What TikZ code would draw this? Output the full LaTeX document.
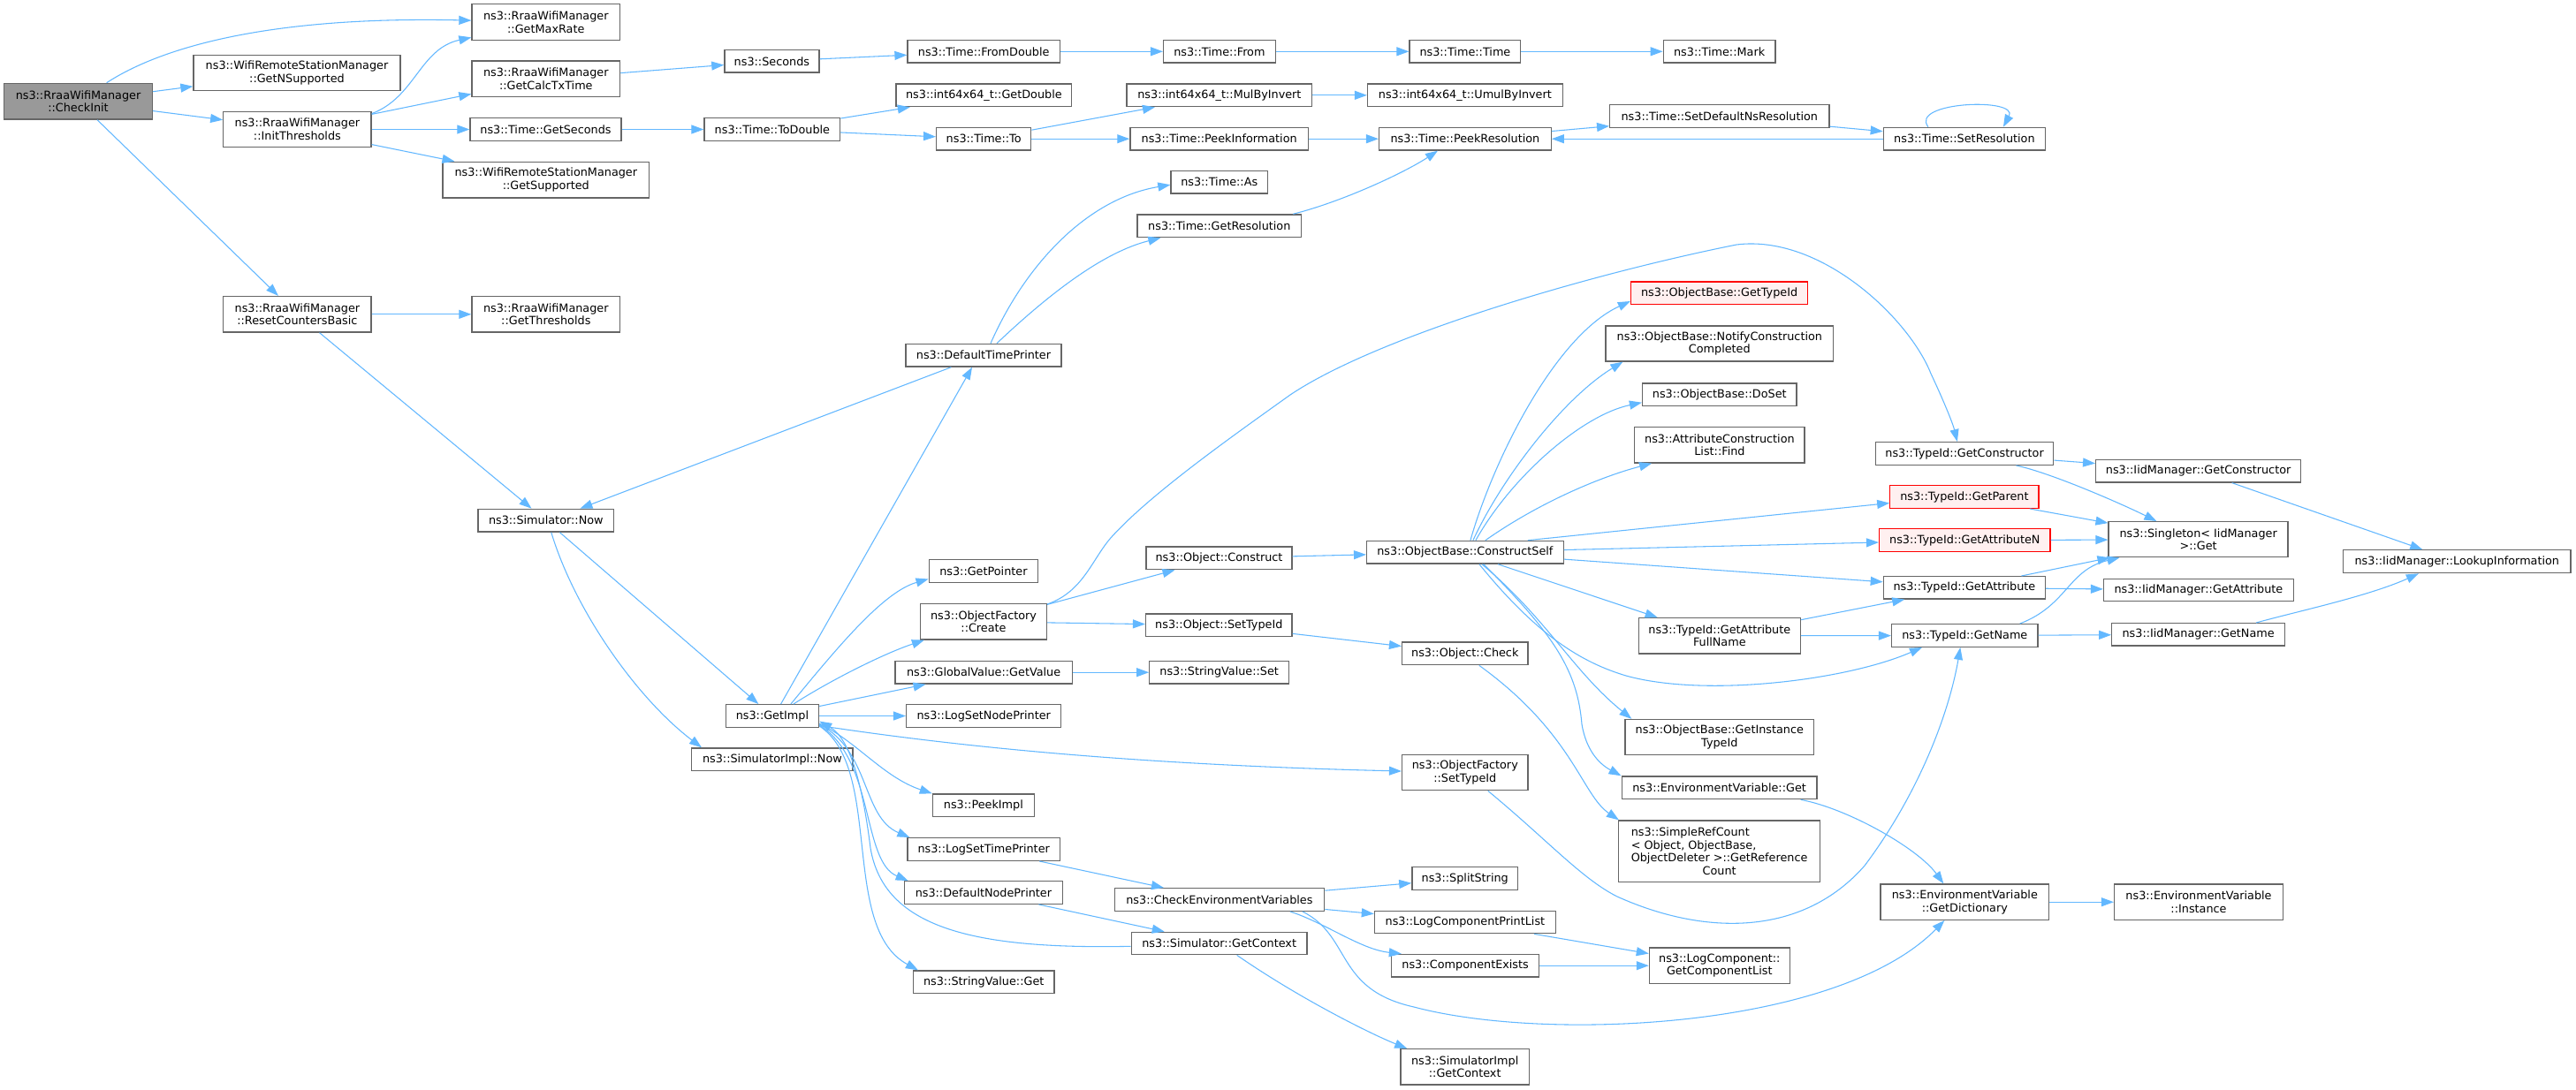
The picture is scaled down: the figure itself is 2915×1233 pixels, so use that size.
\documentclass[tikz,border=0pt]{standalone}
\usepackage{fontspec}
\setmainfont{DejaVu Sans}
\usetikzlibrary{arrows.meta,calc}
\definecolor{edgecol}{HTML}{63B8FF}
\definecolor{nodeborder}{HTML}{666666}
\definecolor{redfill}{HTML}{FFF0F0}
\definecolor{curfill}{HTML}{999999}
\newcommand\graphfont{\fontsize{9.6}{11}\selectfont}
\newlength\srcw
\tikzset{
  fn/.style={draw=nodeborder, fill=white, line width=1pt, inner sep=0pt, align=center, font=\graphfont},
  fnred/.style={fn, draw=red, fill=redfill},
  fncur/.style={fn, fill=curfill},
  sz/.style 2 args={minimum width=#1*0.75pt, minimum height=#2*0.75pt},
  ca/.style={draw=edgecol, line width=0.8pt, -{Triangle[length=10.5pt,width=7.5pt]}},
}
\begin{document}
\begin{tikzpicture}[x=0.75pt,y=-0.75pt]
\fill[white] (0,0) rectangle (2915,1233);
\useasboundingbox (0,0) rectangle (2915,1233);
% column 1
\node[fncur, sz={167.6}{40.7}] (checkinit) at (88.5,114.7) {ns3::RraaWifiManager\\::CheckInit};
% column 2
\node[fn, sz={234}{40.4}] (getnsupported) at (336,82.5) {ns3::WifiRemoteStationManager\\::GetNSupported};
\node[fn, sz={167.2}{40.4}] (initthr) at (336.4,146.5) {ns3::RraaWifiManager\\::InitThresholds};
\node[fn, sz={167.2}{40.4}] (resetcb) at (336.4,355.8) {ns3::RraaWifiManager\\::ResetCountersBasic};
% column 3
\node[fn, sz={167.6}{40.6}] (getmaxrate) at (617.8,25) {ns3::RraaWifiManager\\::GetMaxRate};
\node[fn, sz={167.6}{40.4}] (getcalctx) at (617.8,89.2) {ns3::RraaWifiManager\\::GetCalcTxTime};
\node[fn, sz={171}{25.6}] (getseconds) at (617.5,146.5) {ns3::Time::GetSeconds};
\node[fn, sz={233.6}{40.7}] (getsupported) at (617.8,203.7) {ns3::WifiRemoteStationManager\\::GetSupported};
\node[fn, sz={167.6}{40.4}] (getthr) at (617.8,355.8) {ns3::RraaWifiManager\\::GetThresholds};
\node[fn, sz={153.6}{25.7}] (simnow) at (617.8,589.2) {ns3::Simulator::Now};
% column 4
\node[fn, sz={107}{25.5}] (seconds) at (873.4,69.3) {ns3::Seconds};
\node[fn, sz={153.7}{25.6}] (todouble) at (873.9,146.5) {ns3::Time::ToDouble};
\node[fn, sz={105.3}{25.6}] (getimpl) at (873.9,810.5) {ns3::GetImpl};
\node[fn, sz={182.5}{25.7}] (simimplnow) at (873.9,859.8) {ns3::SimulatorImpl::Now};
% column 5
\node[fn, sz={172.3}{25.4}] (fromdouble) at (1113.2,58.3) {ns3::Time::FromDouble};
\node[fn, sz={198.8}{25.7}] (getdouble) at (1113.4,107.8) {ns3::int64x64\_t::GetDouble};
\node[fn, sz={107.1}{25.7}] (tto) at (1113.2,157.2) {ns3::Time::To};
\node[fn, sz={176}{25.7}] (deftp) at (1113,402.2) {ns3::DefaultTimePrinter};
\node[fn, sz={123.4}{25.6}] (getpointer) at (1112.9,646.5) {ns3::GetPointer};
\node[fn, sz={142.9}{40.3}] (ofcreate) at (1113,703.8) {ns3::ObjectFactory\\::Create};
\node[fn, sz={200.2}{25.7}] (gvgetvalue) at (1113.1,761.2) {ns3::GlobalValue::GetValue};
\node[fn, sz={175.1}{25.6}] (logsetnp) at (1113.2,810.5) {ns3::LogSetNodePrinter};
\node[fn, sz={115}{25.7}] (peekimpl) at (1112.9,911.8) {ns3::PeekImpl};
\node[fn, sz={172.3}{25.6}] (logsettp) at (1113.2,961.5) {ns3::LogSetTimePrinter};
\node[fn, sz={179.2}{25.6}] (defnp) at (1112.9,1010.5) {ns3::DefaultNodePrinter};
\node[fn, sz={159.3}{25.7}] (svget) at (1113.2,1111.8) {ns3::StringValue::Get};
% column 6
\node[fn, sz={126.6}{25.4}] (tfrom) at (1379.9,58.3) {ns3::Time::From};
\node[fn, sz={209.7}{25.7}] (mulbyinv) at (1379.9,107.8) {ns3::int64x64\_t::MulByInvert};
\node[fn, sz={201.6}{25.7}] (peekinfo) at (1379.7,157.2) {ns3::Time::PeekInformation};
\node[fn, sz={109.4}{25.7}] (tas) at (1379.7,206.2) {ns3::Time::As};
\node[fn, sz={185.6}{25.7}] (getres) at (1379.8,255.8) {ns3::Time::GetResolution};
\node[fn, sz={165}{25.7}] (oconstruct) at (1379.5,631.8) {ns3::Object::Construct};
\node[fn, sz={165.4}{25.7}] (osettypeid) at (1379.3,707.8) {ns3::Object::SetTypeId};
\node[fn, sz={157.8}{25.7}] (svset) at (1379.7,761.2) {ns3::StringValue::Set};
\node[fn, sz={237.4}{25.6}] (checkenv) at (1379.9,1018.5) {ns3::CheckEnvironmentVariables};
\node[fn, sz={198.7}{25.4}] (simgetctx) at (1379.7,1068) {ns3::Simulator::GetContext};
% column 7
\node[fn, sz={125.7}{25.4}] (ttime) at (1657.9,58.3) {ns3::Time::Time};
\node[fn, sz={220.7}{25.7}] (umul) at (1657.9,107.8) {ns3::int64x64\_t::UmulByInvert};
\node[fn, sz={194.6}{25.7}] (peekres) at (1657.9,157.2) {ns3::Time::PeekResolution};
\node[fn, sz={222.5}{25.7}] (constructself) at (1657.9,625.2) {ns3::ObjectBase::ConstructSelf};
\node[fn, sz={142.4}{25.7}] (ocheck) at (1657.8,739.8) {ns3::Object::Check};
\node[fn, sz={142.4}{40}] (ofsettypeid) at (1657.8,874.7) {ns3::ObjectFactory\\::SetTypeId};
\node[fn, sz={119.7}{25.6}] (splitstr) at (1657.7,994.5) {ns3::SplitString};
\node[fn, sz={204.9}{25.4}] (logcpl) at (1657.9,1044) {ns3::LogComponentPrintList};
\node[fn, sz={167.2}{25.7}] (compexists) at (1658.1,1093.2) {ns3::ComponentExists};
\node[fn, sz={145.7}{40.3}] (simimplctx) at (1657.7,1207.8) {ns3::SimulatorImpl\\::GetContext};
% column 8
\node[fn, sz={126.6}{25.4}] (mark) at (1945.6,58.3) {ns3::Time::Mark};
\node[fn, sz={248.2}{26}] (setdefns) at (1945.8,131.7) {ns3::Time::SetDefaultNsResolution};
\node[fnred, sz={200.2}{25.3}] (obgettypeid) at (1945.6,331.7) {ns3::ObjectBase::GetTypeId};
\node[fn, sz={257.5}{40}] (notify) at (1945.8,389) {ns3::ObjectBase::NotifyConstruction\\Completed};
\node[fn, sz={174.5}{25.3}] (doset) at (1945.8,446.7) {ns3::ObjectBase::DoSet};
\node[fn, sz={192.3}{40.3}] (acfind) at (1945.9,503.8) {ns3::AttributeConstruction\\List::Find};
\node[fn, sz={183}{40.3}] (gafullname) at (1945.8,719.8) {ns3::TypeId::GetAttribute\\FullName};
\node[fn, sz={213.6}{40.2}] (getinsttid) at (1945.8,834.6) {ns3::ObjectBase::GetInstance\\TypeId};
\node[fn, sz={220.8}{25.7}] (envget) at (1945.6,891.8) {ns3::EnvironmentVariable::Get};
\node[fn, sz={228.1}{69.7}] (simplerc) at (1945.6,963.8) {\settowidth{\srcw}{ObjectDeleter >::GetReference}\global\srcw=\srcw\relax\makebox[\srcw][l]{ns3::SimpleRefCount}\\\makebox[\srcw][l]{< Object, ObjectBase,}\\ObjectDeleter >::GetReference\\Count};
\node[fn, sz={158.8}{40.3}] (getcomplist) at (1945.8,1093.2) {ns3::LogComponent::\\GetComponentList};
% column 9
\node[fn, sz={183.1}{25.7}] (setres) at (2222.9,157.2) {ns3::Time::SetResolution};
\node[fn, sz={201.2}{25.6}] (tgetctor) at (2223.1,513.5) {ns3::TypeId::GetConstructor};
\node[fnred, sz={168.2}{25.6}] (tgetparent) at (2222.9,562.5) {ns3::TypeId::GetParent};
\node[fnred, sz={193.3}{26}] (tgetattrn) at (2223.3,611.7) {ns3::TypeId::GetAttributeN};
\node[fn, sz={183.1}{25.3}] (tgetattr) at (2222.9,665.3) {ns3::TypeId::GetAttribute};
\node[fn, sz={165.4}{25.6}] (tgetname) at (2223.3,719.5) {ns3::TypeId::GetName};
\node[fn, sz={190.6}{40.3}] (getdict) at (2223.3,1021.2) {ns3::EnvironmentVariable\\::GetDictionary};
% column 10
\node[fn, sz={231.8}{25.3}] (iidgetctor) at (2487.6,533.3) {ns3::IidManager::GetConstructor};
\node[fn, sz={203}{40}] (singleton) at (2487.6,610.7) {ns3::Singleton< IidManager\\ >::Get};
\node[fn, sz={214.7}{25.4}] (iidgetattr) at (2487.9,668) {ns3::IidManager::GetAttribute};
\node[fn, sz={195.6}{25.3}] (iidgetname) at (2487.6,718.3) {ns3::IidManager::GetName};
\node[fn, sz={190.9}{40.3}] (envinst) at (2488,1021.2) {ns3::EnvironmentVariable\\::Instance};
% column 11
\node[fn, sz={257.5}{26}] (lookup) at (2780.3,635.7) {ns3::IidManager::LookupInformation};

% ---------------- edges ----------------
\draw[ca] (checkinit) .. controls (180,55) and (300,18) .. (getmaxrate);
\draw[ca] (checkinit) -- (getnsupported);
\draw[ca] (checkinit) -- (initthr);
\draw[ca] (checkinit) -- (resetcb);
\draw[ca] ($(initthr.north east)+(0,3)$) .. controls (470,110) and (475,55) .. ($(getmaxrate.south west)+(0,-3.6)$);
\draw[ca] (initthr) -- (getcalctx);
\draw[ca] (initthr) -- (getseconds);
\draw[ca] (initthr) -- (getsupported);
\draw[ca] (getcalctx) -- (seconds);
\draw[ca] (seconds) -- (fromdouble);
\draw[ca] (fromdouble) -- (tfrom);
\draw[ca] (tfrom) -- (ttime);
\draw[ca] (ttime) -- (mark);
\draw[ca] (getseconds) -- (todouble);
\draw[ca] (todouble) -- (getdouble);
\draw[ca] (todouble) -- (tto);
\draw[ca] (tto) -- (mulbyinv);
\draw[ca] (tto) -- (peekinfo);
\draw[ca] (mulbyinv) -- (umul);
\draw[ca] (peekinfo) -- (peekres);
\draw[ca] (peekres) -- (setdefns);
\draw[ca] (setdefns) -- (setres);
\draw[ca] (setres) -- (peekres);
\draw[ca] ($(setres.north)+(-41,0)$) .. controls (2160,115) and (2285,110) .. ($(setres.north)+(44,0)$);
\draw[ca] ($(getres.north east)+(-10,0)$) .. controls (1520,228) and (1590,195) .. ($(peekres.south west)+(67,0)$);
\draw[ca] ($(deftp.north)+(8,0)$) .. controls (1160,300) and (1230,225) .. ($(tas.west)+(0,3)$);
\draw[ca] ($(deftp.north)+(15,0)$) .. controls (1190,330) and (1250,285) .. ($(getres.south west)+(27,0)$);
\draw[ca] ($(deftp.south west)+(52,0)$) -- ($(simnow.north)+(38.6,0)$);
\draw[ca] (resetcb) -- (getthr);
\draw[ca] (resetcb) -- (simnow);
\draw[ca] (simnow) -- (getimpl);
\draw[ca] ($(simnow.south)+(6,0)$) .. controls (650,690) and (720,790) .. ($(simimplnow.north west)+(12,0)$);
\draw[ca] ($(getimpl.north)+(9.7,0)$) -- ($(deftp.south)+(-13,0)$);
\draw[ca] ($(getimpl.north)+(21,0)$) .. controls (950,730) and (1000,670) .. ($(getpointer.west)+(0,9)$);
\draw[ca] ($(getimpl.north)+(24,0)$) .. controls (940,770) and (1000,740) .. ($(ofcreate.south west)+(5,0)$);
\draw[ca] (getimpl) -- (gvgetvalue);
\draw[ca] (getimpl) -- (logsetnp);
\draw[ca] ($(getimpl.east)+(0,11)$) .. controls (1050,840) and (1250,865) .. ($(ofsettypeid.west)+(0,-1.7)$);
\draw[ca] ($(getimpl.south east)+(0,-5)$) .. controls (970,840) and (1000,880) .. (peekimpl.north west);
\draw[ca] ($(getimpl.south east)+(0,-4)$) .. controls (985,850) and (975,925) .. ($(logsettp.north west)+(3,0)$);
\draw[ca] ($(getimpl.south east)+(0,-3)$) .. controls (990,860) and (975,975) .. ($(defnp.north west)+(5,0)$);
\draw[ca] ($(getimpl.south east)+(0,-2)$) .. controls (1000,870) and (950,1050) .. ($(svget.north west)+(6,0)$);
\draw[ca] ($(simgetctx.west)+(0,3.3)$) .. controls (1100,1075) and (1000,1050) .. (985,960) .. controls (975,880) and (960,835) .. ($(getimpl.east)+(0,6)$);
\draw[ca] (logsettp) -- (checkenv);
\draw[ca] (defnp) -- (simgetctx);
\draw[ca] ($(simgetctx.south)+(20,0)$) .. controls (1470,1130) and (1550,1170) .. ($(simimplctx.north west)+(8,0)$);
\draw[ca] (checkenv) -- (splitstr);
\draw[ca] (checkenv) -- (logcpl);
\draw[ca] ($(checkenv.south)+(80,0)$) .. controls (1500,1045) and (1540,1075) .. ($(compexists.north west)+(12,0)$);
\draw[ca] ($(checkenv.south)+(94,0)$) .. controls (1530,1060) and (1510,1120) .. (1600,1140) .. controls (1750,1180) and (2080,1165) .. ($(getdict.south west)+(73,0)$);
\draw[ca] (logcpl) -- (getcomplist);
\draw[ca] (compexists) -- (getcomplist);
\draw[ca] (gvgetvalue) -- (svset);
\draw[ca] (ofcreate) -- (oconstruct);
\draw[ca] (ofcreate) -- (osettypeid);
\draw[ca] ($(ofcreate.north east)+(0,1)$) .. controls (1225,670) and (1235,635) .. (1256,610) .. controls (1300,560) and (1400,490) .. (1460,447) .. controls (1560,380) and (1800,310) .. (1965,277) .. controls (2060,265) and (2160,360) .. (2185,423) .. controls (2200,455) and (2210,480) .. ($(tgetctor.north west)+(93,0)$);
\draw[ca] (oconstruct) -- (constructself);
\draw[ca] (osettypeid) -- (ocheck);
\draw[ca] ($(ocheck.south)+(16,0)$) .. controls (1780,830) and (1790,900) .. ($(simplerc.north west)+(1,0)$);
\draw[ca] ($(constructself.north)+(6,0)$) .. controls (1690,520) and (1760,380) .. ($(obgettypeid.south west)+(0,-4)$);
\draw[ca] ($(constructself.north)+(9,0)$) .. controls (1700,540) and (1770,450) .. ($(notify.south west)+(20,0)$);
\draw[ca] ($(constructself.north)+(12,0)$) .. controls (1710,540) and (1790,470) .. ($(doset.west)+(0,9)$);
\draw[ca] ($(constructself.north)+(23,0)$) .. controls (1740,570) and (1810,540) .. ($(acfind.south west)+(20,0)$);
\draw[ca] ($(constructself.north east)+(-41,0)$) -- ($(tgetparent.west)+(0,7)$);
\draw[ca] (constructself) -- (tgetattrn);
\draw[ca] (constructself) -- (tgetattr);
\draw[ca] ($(constructself.south)+(37,0)$) -- ($(gafullname.north west)+(22,0)$);
\draw[ca] ($(constructself.south)+(16,0)$) .. controls (1740,720) and (1790,750) .. (1840,765) .. controls (1930,790) and (2090,770) .. ($(tgetname.south west)+(35,0)$);
\draw[ca] ($(constructself.south)+(19,0)$) .. controls (1750,700) and (1780,760) .. ($(getinsttid.north west)+(8,0)$);
\draw[ca] ($(constructself.south)+(21,0)$) .. controls (1760,720) and (1785,760) .. (1790,820) .. controls (1795,850) and (1810,865) .. (envget.north west);
\draw[ca] ($(ofsettypeid.south)+(26,0)$) .. controls (1750,950) and (1790,995) .. (1830,1015) .. controls (1930,1060) and (2040,1060) .. (2110,980) .. controls (2170,900) and (2205,810) .. ($(tgetname.south)+(-5,0)$);
\draw[ca] (tgetctor) -- (iidgetctor);
\draw[ca] ($(tgetctor.south east)+(-43,0)$) .. controls (2320,535) and (2400,570) .. ($(singleton.north west)+(55,0)$);
\draw[ca] (tgetparent) -- (singleton);
\draw[ca] (tgetattrn) -- (singleton);
\draw[ca] (tgetattr) -- (singleton);
\draw[ca] (tgetattr) -- (iidgetattr);
\draw[ca] ($(tgetname.north east)+(-21,0)$) .. controls (2340,685) and (2340,645) .. ($(singleton.south west)+(13,0)$);
\draw[ca] (tgetname) -- (iidgetname);
\draw[ca] (gafullname) -- (tgetattr);
\draw[ca] (gafullname) -- (tgetname);
\draw[ca] (iidgetctor) -- (lookup);
\draw[ca] ($(iidgetname.north east)+(-33,0)$) .. controls (2600,692) and (2680,675) .. ($(lookup.south west)+(86,0)$);
\draw[ca] ($(envget.south east)+(-19,0)$) .. controls (2090,915) and (2170,960) .. ($(getdict.north west)+(72,0)$);
\draw[ca] (getdict) -- (envinst);
\end{tikzpicture}
\end{document}
